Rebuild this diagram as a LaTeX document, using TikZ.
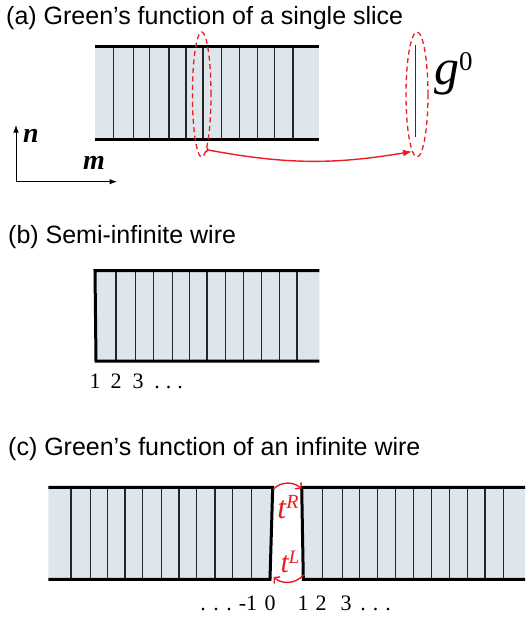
\documentclass[tikz,border=0pt]{standalone}
\usepackage{fontspec}
\setmainfont{Liberation Sans}
\newfontfamily\timesfont{Liberation Serif}
\usepackage{tikz}
\usetikzlibrary{arrows.meta,shapes.geometric,positioning,calc}
\definecolor{wirefill}{RGB}{222,230,236}
\definecolor{hopred}{RGB}{236,28,36}
\tikzset{
  edge/.style={draw=black, line width=3pt},
  slice/.style={draw=black!85, line width=1.3pt},
  ring/.style={ellipse, draw=hopred, dashed, line width=1.3pt, dash pattern=on 5pt off 3.5pt, inner sep=0pt},
  hop/.style={hopred, line width=1.4pt},
  title/.style={font=\fontsize{25}{30}\selectfont, anchor=base west, inner sep=0pt},
  index/.style={font=\timesfont\fontsize{22}{24}\selectfont, inner sep=0pt, anchor=base},
  sym/.style={font=\timesfont\itshape, inner sep=0pt}
}

\begin{document}
\begin{tikzpicture}[x=1pt, y=-1pt, >=Latex]
\useasboundingbox (0,0) rectangle (525,618);

% (a) single slice
\node[title] (titleA) at (6,25) {(a) Green's function of a single slice};
\fill[wirefill] (95,47) rectangle (319,139);
\foreach \x in {113.3,133.3,149.7,169,186,203,221.3,239.7,257.7,274.7,293}
  \draw[slice] (\x,47) -- (\x,139);
\draw[edge] (95,47) -- (319,47);
\draw[edge] (95,139) -- (319,139);

\node[ring, minimum width=18.6pt, minimum height=125pt] (ringA) at (201.7,94.5) {};
\node[ring, minimum width=22pt, minimum height=125pt] (ringB) at (417,94.5) {};
\draw[line width=1.2pt, black!80] (415.7,45) -- (415.7,136.7);
\node[sym, font=\timesfont\itshape\fontsize{50}{50}\selectfont, anchor=north west] (gzero) at (434,52)
  {g\raisebox{14pt}{\fontsize{27}{27}\selectfont\upshape 0}};

\draw[hop, {Bar[width=5pt]}-{Latex[length=9pt,width=7pt]}]
  (ringA.275) to[bend right=10] (ringB.265);

% axes
\coordinate (orig) at (16,181.7);
\draw[->, line width=1pt] (orig) -- (16,125);
\draw[->, line width=1pt] (orig) -- (117,181.7);
\node[sym, font=\timesfont\bfseries\itshape\fontsize{28}{28}\selectfont] (labN) at (31,136) {n};
\node[sym, font=\timesfont\bfseries\itshape\fontsize{28}{28}\selectfont] (labM) at (94,163) {m};

% (b) semi-infinite wire
\node[title] (titleB) at (8,243) {(b) Semi-infinite wire};
\fill[wirefill] (95,270.7) -- (319.3,270.7) -- (319.3,361) -- (96,361) -- cycle;
\foreach \x in {116,135.7,153.3,172.3,189.3,207,225.3,243.3,261.7,279.3,297}
  \draw[slice] (\x,270.7) -- (\x,361);
\draw[edge] (319.3,270.7) -- (95,270.7) -- (96,361) -- (319.3,361);

\foreach \n/\x in {1/95,2/116,3/138}
  \node[index] (b\n) at (\x,388) {\n};
\foreach \x in {157,168.5,180}
  \node[index] at (\x,388) {.};

% (c) infinite wire
\node[title] (titleC) at (8,455) {(c) Green’s function of an infinite wire};
\fill[wirefill] (48.3,487.3) -- (272.7,487.3) -- (270,579.3) -- (48.3,579.3) -- cycle;
\fill[wirefill] (301.7,487.3) -- (525,487.3) -- (525,579.3) -- (303.3,579.3) -- cycle;
\foreach \x in {71,90.3,107.3,125,142.7,161.7,179,196.7,215,232.3,251.7,
                322.7,342.3,359.7,377.3,395.7,413.3,431.7,449.3,467.3,485,503.3}
  \draw[slice] (\x,487.3) -- (\x,579.3);
\draw[edge] (48.3,487.3) -- (272.7,487.3) -- (270,579.3) -- (48.3,579.3);
\draw[edge] (525,487.3) -- (301.7,487.3) -- (303.3,579.3) -- (525,579.3);

\coordinate (leftTop) at (273.5,489);
\coordinate (rightTop) at (301.5,489);
\coordinate (rightBot) at (303.5,575);
\coordinate (leftBot) at (273.5,577);
\draw[hop, -{Straight Barb[length=4pt,width=9pt]}] (leftTop) to[bend left=45] (rightTop);
\draw[hop, -{Straight Barb[length=4pt,width=9pt]}] (rightBot) to[bend left=45] (leftBot);
\node[sym, text=hopred, font=\timesfont\itshape\fontsize{32}{32}\selectfont] (tR) at (288,507)
  {t\raisebox{10pt}{\fontsize{20}{20}\selectfont R}};
\node[sym, text=hopred, font=\timesfont\itshape\fontsize{30}{30}\selectfont] (tL) at (290,562)
  {t\raisebox{9pt}{\fontsize{19}{19}\selectfont L}};

\foreach \x in {203,216,229}
  \node[index] at (\x,610) {.};
\node[index] (cm1) at (248,610) {-1};
\node[index] (c0) at (270,610) {0};
\foreach \n/\x in {1/303,2/321,3/346}
  \node[index] (c\n) at (\x,610) {\n};
\foreach \x in {363,375.5,388}
  \node[index] at (\x,610) {.};
\end{tikzpicture}
\end{document}
